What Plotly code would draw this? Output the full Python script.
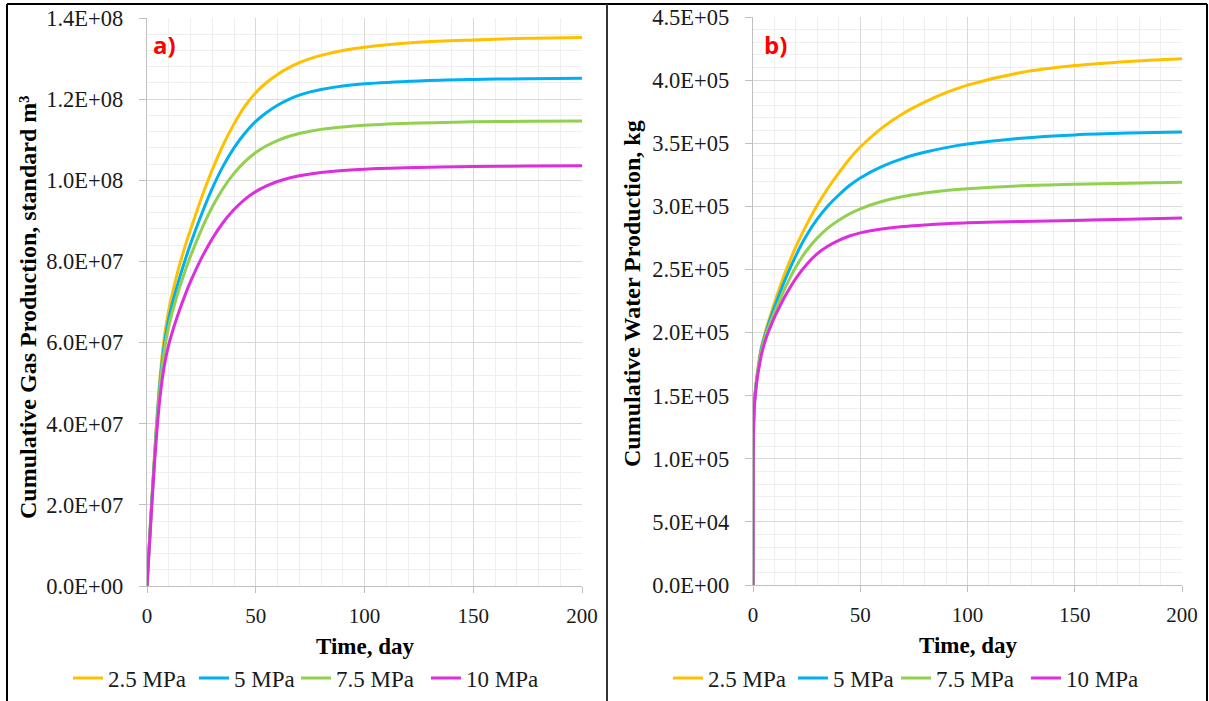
import numpy as np
import plotly.graph_objects as go

# ---- data -----------------------------------------------------------------
PRESSURES = ["2.5 MPa", "5 MPa", "7.5 MPa", "10 MPa"]
COLORS = ["#FFC000", "#00B0F0", "#92D050", "#DD2EDD"]

# cumulative gas production, million standard m3
T_GAS = [0, 2, 4, 6, 8, 10, 12.5, 15, 17.5, 20, 25, 30, 35, 40, 45, 50, 55, 60, 65, 70, 75, 80, 90, 100, 125, 150, 175, 200]
GAS_25 = [0, 19.5, 37, 51.5, 61.5, 68, 74, 79.2, 83.7, 87.8, 95.6, 102.6, 108.7, 113.9, 118.3, 121.6, 124.1, 126.1, 127.7, 129, 130, 130.8, 132, 132.8, 134, 134.6, 135, 135.2]
GAS_5 = [0, 19.1, 36.3, 50.3, 59.6, 65.9, 71.3, 76, 80.3, 84.3, 91.5, 98, 103.5, 108, 111.6, 114.5, 116.7, 118.5, 119.9, 121, 121.8, 122.4, 123.25, 123.8, 124.5, 124.85, 125.05, 125.15]
GAS_75 = [0, 18.7, 35.6, 49.2, 58.1, 64, 69.1, 73.6, 77.6, 81.3, 87.8, 93.4, 98, 101.7, 104.6, 106.85, 108.5, 109.8, 110.8, 111.55, 112.1, 112.55, 113.15, 113.55, 114.1, 114.4, 114.55, 114.6]
GAS_10 = [0, 18.1, 34.4, 46.6, 54.4, 59.5, 64.1, 68.1, 71.7, 75, 80.75, 85.6, 89.6, 92.8, 95.3, 97.2, 98.6, 99.7, 100.5, 101.1, 101.55, 101.9, 102.4, 102.75, 103.15, 103.4, 103.5, 103.6]

# cumulative water production, thousand kg
T_WATER = [0, 0.1, 0.5, 1, 2, 3, 4, 6, 8, 10, 12, 15, 20, 25, 30, 35, 40, 45, 50, 60, 70, 80, 90, 100, 125, 150, 175, 200]
WATER_25 = [0, 105, 140, 153, 168, 180, 189, 202, 213, 223.5, 233.5, 247.5, 268, 285.5, 301, 314.5, 326.5, 337.5, 347, 362, 373.5, 382.5, 390, 396, 406, 411.5, 414.8, 417]
WATER_5 = [0, 105, 140, 152, 167, 178, 188, 200, 210.5, 220, 229, 242, 261, 277, 290, 300.5, 309, 316.5, 322.5, 331.5, 338, 342.8, 346.5, 349.3, 354, 356.6, 358, 358.8]
WATER_75 = [0, 104, 139, 151, 166, 177, 186, 198, 207.5, 216, 224, 235.5, 252, 265, 275, 283, 289, 294, 298, 303.8, 307.8, 310.6, 312.6, 314, 316.3, 317.5, 318.3, 319]
WATER_10 = [0, 103, 137, 149, 164, 174, 183, 195, 204, 212, 219, 229, 243, 254, 262.5, 268.5, 273, 276.5, 279, 282, 284, 285.3, 286.2, 287, 288, 288.8, 289.8, 290.8]

GAS_TICKS = [0, 2e7, 4e7, 6e7, 8e7, 1e8, 1.2e8, 1.4e8]
WATER_TICKS = [0, 5e4, 1e5, 1.5e5, 2e5, 2.5e5, 3e5, 3.5e5, 4e5, 4.5e5]
TIME_TICKS = [0, 50, 100, 150, 200]

W, H = 1209, 701
SERIF = "Liberation Serif"
TXT = "#1a1a1a"
PAD = "\u2007"  # figure space: keeps value labels clear of the tick marks

gas = [np.array(s) * 1e6 for s in (GAS_25, GAS_5, GAS_75, GAS_10)]
water = [np.array(s) * 1e3 for s in (WATER_25, WATER_5, WATER_75, WATER_10)]


def px_x(p):
    return p / W


def px_y(p):
    return 1 - p / H


# one legend box per entry so each sits under its own panel at fixed spacing
LEG_X_GAS = [68, 194, 296, 426]
LEG_X_WATER = [668, 793, 896, 1026]
LEG_Y = 678

fig = go.Figure()
legends = {}

for i, (name, color, ys) in enumerate(zip(PRESSURES, COLORS, gas)):
    key = "legend" if i == 0 else f"legend{i + 1}"
    legends[key] = LEG_X_GAS[i]
    fig.add_trace(go.Scatter(
        x=T_GAS, y=ys, name=name, mode="lines",
        line=dict(color=color, width=3, shape="spline", smoothing=1.0),
        xaxis="x", yaxis="y", legend=key,
    ))

for i, (name, color, ys) in enumerate(zip(PRESSURES, COLORS, water)):
    key = f"legend{i + 5}"
    legends[key] = LEG_X_WATER[i]
    fig.add_trace(go.Scatter(
        x=T_WATER, y=ys, name=name, mode="lines",
        line=dict(color=color, width=3, shape="spline", smoothing=0.8),
        xaxis="x2", yaxis="y2", legend=key,
    ))

major_grid = "#d9d9d9"
minor_grid = "#efefef"

xcommon = dict(
    range=[0, 200], tickvals=TIME_TICKS, ticktext=[str(v) for v in TIME_TICKS],
    showgrid=True, gridcolor=major_grid, gridwidth=1,
    minor=dict(dtick=10, showgrid=True, gridcolor=minor_grid, gridwidth=1, ticks=""),
    showline=True, linecolor="#bfbfbf", linewidth=1,
    ticks="outside", ticklen=6, tickcolor="#bfbfbf", ticklabelstandoff=5,
    tickfont=dict(family=SERIF, size=21, color=TXT),
    zeroline=False, fixedrange=True, automargin=False,
)

ycommon = dict(
    showgrid=True, gridcolor=major_grid, gridwidth=1,
    showline=True, linecolor="#bfbfbf", linewidth=1,
    ticks="outside", ticklen=7, tickcolor="#bfbfbf",
    tickfont=dict(family=SERIF, size=22.5, color=TXT),
    zeroline=False, fixedrange=True, automargin=False,
)

legend_layout = {
    key: dict(
        x=px_x(xp), y=px_y(LEG_Y), xanchor="left", yanchor="middle",
        orientation="h", font=dict(family=SERIF, size=23, color=TXT),
        bgcolor="rgba(0,0,0,0)", itemwidth=30,
    )
    for key, xp in legends.items()
}

fig.update_layout(
    width=W, height=H,
    margin=dict(l=0, r=0, t=0, b=0, pad=0, autoexpand=False),
    paper_bgcolor="white", plot_bgcolor="white",
    xaxis=dict(domain=[px_x(147), px_x(582)], anchor="y", **xcommon),
    yaxis=dict(
        domain=[px_y(586), px_y(18)], anchor="x", range=[0, 1.4e8],
        tickvals=GAS_TICKS, ticktext=[f"{v:.1E}{PAD}" for v in GAS_TICKS],
        minor=dict(dtick=4e6, showgrid=True, gridcolor=minor_grid, gridwidth=1, ticks=""),
        **ycommon,
    ),
    xaxis2=dict(domain=[px_x(753), px_x(1182)], anchor="y2", **xcommon),
    yaxis2=dict(
        domain=[px_y(585), px_y(17)], anchor="x2", range=[0, 4.5e5],
        tickvals=WATER_TICKS, ticktext=[f"{v:.1E}{PAD}" for v in WATER_TICKS],
        minor=dict(dtick=1e4, showgrid=True, gridcolor=minor_grid, gridwidth=1, ticks=""),
        **ycommon,
    ),
    showlegend=True,
    **legend_layout,
)

# axis titles and panel labels
ann = [
    dict(text="<b>Time, day</b>", x=px_x(365), y=px_y(646), size=23),
    dict(text="<b>Time, day</b>", x=px_x(968), y=px_y(645), size=23),
    dict(text="<b>Cumulative Gas Production, standard m³</b>", x=px_x(28), y=px_y(308), textangle=-90, size=24),
    dict(text="<b>Cumulative Water Production, kg</b>", x=px_x(632), y=px_y(294), textangle=-90, size=24),
]
for a in ann:
    size = a.pop("size")
    fig.add_annotation(xref="paper", yref="paper", showarrow=False,
                       xanchor="center", yanchor="middle",
                       font=dict(family=SERIF, size=size, color="black"), **a)

for label, xp in (("a)", 164), ("b)", 775)):
    fig.add_annotation(text=f"<b>{label}</b>", xref="paper", yref="paper",
                       x=px_x(xp), y=px_y(45), showarrow=False,
                       xanchor="center", yanchor="middle",
                       font=dict(family="Open Sans", size=24, color="#FF0000"))

# outer frame and panel divider
frame = dict(color="black", width=2)
fig.add_shape(type="line", xref="paper", yref="paper", x0=px_x(7), x1=px_x(7), y0=0, y1=px_y(4), line=frame)
fig.add_shape(type="line", xref="paper", yref="paper", x0=px_x(7), x1=px_x(1207), y0=px_y(4), y1=px_y(4), line=frame)
fig.add_shape(type="line", xref="paper", yref="paper", x0=px_x(1207), x1=px_x(1207), y0=0, y1=px_y(4), line=frame)
fig.add_shape(type="line", xref="paper", yref="paper", x0=px_x(607), x1=px_x(607), y0=0, y1=px_y(4),
              line=dict(color="#333333", width=2))

fig.write_html("out.html")
